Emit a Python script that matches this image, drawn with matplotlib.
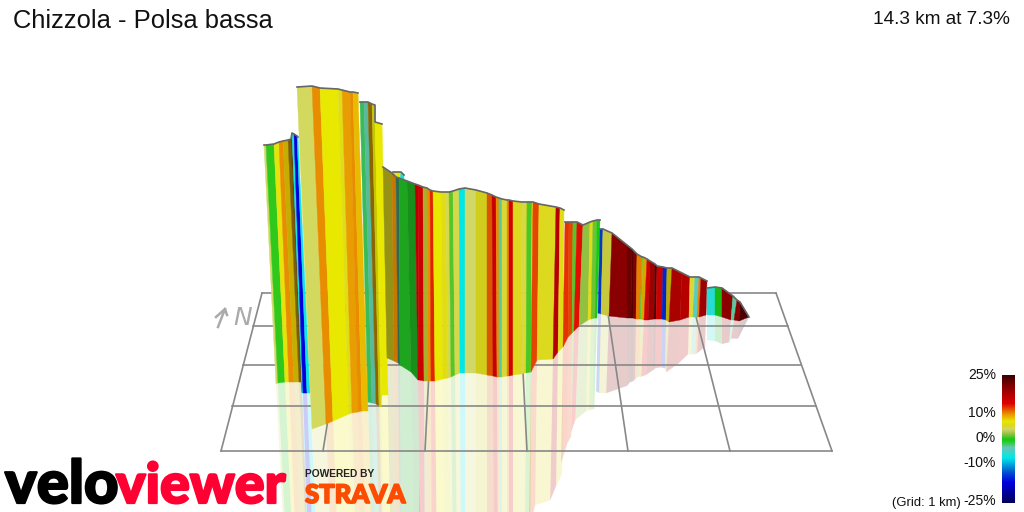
import matplotlib
matplotlib.use('Agg')
import matplotlib.pyplot as plt
import matplotlib.patheffects as pe
import numpy as np
from matplotlib.colors import LinearSegmentedColormap, Normalize, to_rgb
from matplotlib.patches import Polygon

# wall stations, grade nan = break between wall sections
top_x = [264, 266, 274, 279, 283, 288, 291, 292, 294, 297, 298,
         297, 312, 320, 338, 342, 350, 353, 358,
         360, 364, 368, 372, 375, 375, 382,
         393, 401, 404,
         383, 392, 396, 399, 407, 415, 418, 423, 427, 430, 433, 441, 446, 449, 453, 459, 465, 476, 487, 492, 496,
         499, 502, 507, 509, 513, 522, 525, 527, 532, 533, 539, 556, 560, 564,
         565, 569, 573, 577, 583, 590, 593, 597, 600,
         600, 603, 612, 627, 632, 633, 637, 642, 643, 647, 650, 655, 657, 663, 667, 672, 682, 690, 695, 699, 701, 707,
         707, 715, 722, 733, 737, 740, 749]
top_y = [145, 145, 144, 142, 141, 140, 139, 133, 134, 136, 137,
         87, 86, 88, 89, 90, 92, 92, 93,
         102, 102, 102, 104, 105, 122, 124,
         172, 172, 175,
         167, 173, 177, 178, 181, 184, 185, 187, 188, 190, 191, 192, 192, 192, 191, 189, 188, 190, 193, 195, 197,
         198, 199, 200, 200, 201, 202, 202, 202, 202, 202, 204, 207, 208, 210,
         222, 222, 222, 222, 225, 222, 221, 220, 220,
         229, 229, 233, 245, 249, 250, 254, 257, 257, 259, 261, 264, 266, 267, 268, 268, 273, 277, 277, 277, 278, 281,
         288, 287, 288, 296, 300, 302, 317]
base_x = [276, 278, 285, 289, 294, 299, 301, 302, 303, 307, 310,
          312, 326, 333, 349, 352, 358, 362, 368,
          368, 372, 376, 379, 381, 382, 388,
          394, 400, 404,
          387, 394, 398, 400, 411, 418, 419, 424, 428, 431, 435, 443, 448, 451, 455, 460, 465, 476, 487, 493, 497,
          499, 502, 507, 509, 513, 521, 524, 526, 531, 531, 537, 553, 558, 563,
          563, 568, 572, 574, 579, 588, 591, 595, 597,
          598, 601, 609, 627, 631, 633, 636, 640, 641, 644, 648, 654, 656, 662, 666, 669, 680, 689, 693, 697, 699, 706,
          707, 715, 722, 731, 734, 739, 749]
base_y = [384, 383, 382, 382, 382, 382, 382, 393, 393, 393, 393,
          429, 424, 421, 414, 413, 412, 411, 411,
          402, 403, 404, 406, 407, 395, 395,
          180, 180, 180,
          358, 361, 363, 365, 372, 380, 380, 381, 381, 381, 381, 379, 378, 377, 375, 373, 373, 373, 375, 376, 377,
          377, 377, 376, 376, 375, 374, 373, 373, 372, 372, 360, 359, 352, 347,
          347, 337, 333, 331, 326, 320, 319, 318, 318,
          313, 314, 316, 318, 318, 318, 319, 319, 319, 320, 320, 319, 319, 319, 320, 322, 320, 317, 317, 317, 317, 315,
          315, 315, 317, 320, 320, 321, 317]
grade = [4, 0.5, 6.5, 10, 8, 9, 9, -7, -17, -7, np.nan,
         4.2, 10, 7, 6, 9.5, 10, 8.5, np.nan,
         -2, -3.2, 9, 7, 7, 7, np.nan,
         7, -7, np.nan,
         5.5, 10, -3, -1, -1, 17, 14.5, 5, 10, 13, 7, 6, 4.5, 1, 4.5, -7.5, 4, 5.5, 11.5, 14.5, 10,
         -3, 5, 10, 15, 5.5, 4.5, 5.5, 0.8, 7, 12, 5.5, 17, 6, np.nan,
         12.5, 12, 1, 13.5, 2, 6, 1.5, 0, np.nan,
         -14, 4.8, 20, 22, 24, 20, 10.5, 1, 8.5, 15, 19, 24, 15.5, -15, 7.5, 18, 17, 5, -4, 10.5, 19, np.nan,
         -6, -0.5, 19, -3, 20, 24, np.nan]
# facets that read darker than their grade
dark_facets = {4: 0.85, 5: 0.55, 6: 0.55, 21: 0.75, 29: 0.78, 31: 0.75, 36: 0.8}

# grade colour scale as on the legend
scale_grades = [-25, -17, -13, -7.5, -3.5, -1, 0, 2, 4, 5.5, 7, 10, 14, 20, 25]
scale_colors = ['#00005a', '#0000e0', '#0055d0', '#00e8e8', '#66c8b8', '#22cc22', '#10cc10',
                '#90c040', '#d2d868', '#dcd820', '#e8e800', '#e89000', '#e00000', '#900000', '#3c0000']
legend_ticks = [25, 10, 0, -10, -25]

# floor grid, 6 x 4 cells
grid_far_x = [262, 348, 433, 519, 605, 690, 776]
grid_near_x = [221, 323, 425, 527, 628, 730, 832]
grid_rows_y = [293, 326, 365, 406, 451]
grid_rows_x0 = [262, 253, 243, 232, 221]
grid_rows_x1 = [776, 788, 801, 816, 832]

title = 'Chizzola - Polsa bassa'
subtitle = '14.3 km at 7.3%'

fig = plt.figure(figsize=(10.24, 5.12), dpi=100)
ax = fig.add_axes([0, 0, 1, 1])
plt.rcParams['font.family'] = ['Liberation Sans', 'DejaVu Sans']

norm = Normalize(-25, 25)
pos = [norm(g) for g in scale_grades]
cmap = LinearSegmentedColormap.from_list('grade', list(zip(pos, scale_colors)), N=256)

def shade_for(i):
    slope = (base_y[i+1] - base_y[i]) / max(abs(base_x[i+1] - base_x[i]), 1)
    return (1 - 0.3 * min(max(slope, 0), 1)) * dark_facets.get(i, 1)

def segment_color(i):
    rgb = np.array(to_rgb(cmap(norm(grade[i]))))
    return tuple(rgb * shade_for(i))

# reflection on the floor
for i in range(len(grade) - 1):
    if np.isnan(grade[i]):
        continue
    rx0 = base_x[i] + 0.93 * (base_x[i] - top_x[i])
    ry0 = base_y[i] + 0.93 * (base_y[i] - top_y[i])
    rx1 = base_x[i+1] + 0.93 * (base_x[i+1] - top_x[i+1])
    ry1 = base_y[i+1] + 0.93 * (base_y[i+1] - top_y[i+1])
    ax.add_patch(Polygon([(base_x[i], base_y[i]), (base_x[i+1], base_y[i+1]), (rx1, ry1), (rx0, ry0)],
                         facecolor=segment_color(i), edgecolor='none', alpha=0.2, zorder=1))

# grid
for x0, x1 in zip(grid_far_x, grid_near_x):
    ax.plot([x0, x1], [grid_rows_y[0], grid_rows_y[-1]], color='#888888', lw=1.2, zorder=2)
for y, x0, x1 in zip(grid_rows_y, grid_rows_x0, grid_rows_x1):
    ax.plot([x0, x1], [y, y], color='#888888', lw=1.2, zorder=2)

# walls
for i in range(len(grade) - 1):
    if np.isnan(grade[i]):
        continue
    c = segment_color(i)
    ax.add_patch(Polygon([(top_x[i], top_y[i]), (top_x[i+1], top_y[i+1]),
                          (base_x[i+1], base_y[i+1]), (base_x[i], base_y[i])],
                         facecolor=c, edgecolor=c, lw=0.3, zorder=3))

# top outline, one line per wall section
breaks = [i + 1 for i, g in enumerate(grade) if np.isnan(g)]
start = 0
for stop in breaks:
    ax.plot(top_x[start:stop], top_y[start:stop], color='#666666', lw=1.2, zorder=4)
    start = stop

# north arrow
ax.plot([218, 225], [327, 309], color='#aaaaaa', lw=1.8, zorder=2)
ax.plot([216, 225, 227], [317, 309, 315], color='#aaaaaa', lw=1.8, zorder=2)
ax.text(243, 318, 'N', color='#aaaaaa', fontsize=18, style='italic', family='DejaVu Sans',
        ha='center', va='center', zorder=2)

ax.text(13, 21, title, fontsize=18.4, color='#111111', ha='left', va='center')
ax.text(1010, 19, subtitle, fontsize=13.7, color='#111111', ha='right', va='center')

# legend bar
ramp = np.linspace(25, -25, 128).reshape(-1, 1)
ax.imshow(ramp, cmap=cmap, norm=norm, extent=[1002, 1015, 503, 375], aspect='auto', zorder=5)
for t in legend_ticks:
    y = 438 - t * 2.52
    ax.text(996, y, '%d%%' % t, fontsize=10, color='#111111', ha='right', va='center')
ax.text(961, 503, '(Grid: 1 km)', fontsize=9.4, color='#111111', ha='right', va='center')

# logos
thick = [pe.withStroke(linewidth=1.6, foreground='black')]
ax.text(5, 503, 'velo', fontsize=43, fontweight='black', family='Lato', color='black',
        ha='left', va='baseline', zorder=6, path_effects=thick)
thick = [pe.withStroke(linewidth=1.6, foreground='#ff0033')]
ax.text(116, 503, 'viewer', fontsize=40, fontweight='black', family='Lato', color='#ff0033',
        ha='left', va='baseline', zorder=6, path_effects=thick)
ax.text(305, 474, 'POWERED BY', fontsize=7.4, fontweight='bold', color='#222222', ha='left', va='center', zorder=6)
thick = [pe.withStroke(linewidth=1.2, foreground='#fc4c02')]
ax.text(305, 503, 'STRAVA', fontsize=18.5, fontweight='black', family='Lato', color='#fc4c02',
        ha='left', va='baseline', zorder=6, path_effects=thick)

ax.set_xlim(0, 1024)
ax.set_ylim(512, 0)
ax.axis('off')
fig.savefig('out.png', dpi=100)
